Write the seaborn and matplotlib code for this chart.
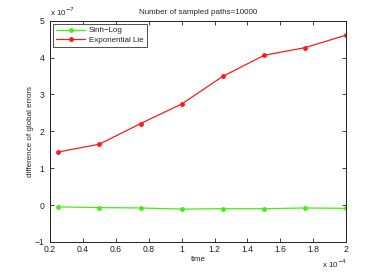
import pandas as pd
import matplotlib
matplotlib.use("Agg")
import matplotlib.pyplot as plt
import seaborn as sns

# time in units of 1e-4, differences in units of 1e-7
TIME = [0.25, 0.5, 0.75, 1.0, 1.25, 1.5, 1.75, 2.0]
SINH_LOG = [-0.05, -0.07, -0.08, -0.11, -0.10, -0.10, -0.08, -0.09]
EXP_LIE = [1.44, 1.65, 2.21, 2.74, 3.49, 4.06, 4.27, 4.61]
SERIES = ["Sinh\u2212Log", "Exponential Lie"]
COLORS = ["#44ee11", "#ff1a1a"]
XTICKS = [0.2, 0.4, 0.6, 0.8, 1, 1.2, 1.4, 1.6, 1.8, 2]
YTICKS = [-1, 0, 1, 2, 3, 4, 5]

FS = 5.8


def build_df():
    rows = []
    for name, vals in zip(SERIES, [SINH_LOG, EXP_LIE]):
        for t, v in zip(TIME, vals):
            rows.append({"time": t, "diff": v, "method": name})
    return pd.DataFrame(rows)


def main():
    sns.set_style("white")
    plt.rcParams["font.family"] = ["Liberation Sans", "DejaVu Sans"]
    df = build_df()

    fig = plt.figure(figsize=(3.82, 2.73), dpi=100)
    ax = fig.add_axes([0.131, 0.114, 0.775, 0.81])

    sns.lineplot(
        data=df, x="time", y="diff", hue="method",
        hue_order=SERIES, palette=COLORS,
        marker="o", markersize=3.5, markeredgewidth=0,
        linewidth=0.9, ax=ax,
    )

    ax.set_xlim(0.2, 2)
    ax.set_ylim(-1, 5)
    ax.set_xticks(XTICKS)
    ax.set_xticklabels(["0.2", "0.4", "0.6", "0.8", "1", "1.2", "1.4", "1.6", "1.8", "2"])
    ax.set_yticks(YTICKS)
    ax.set_yticklabels(["\u22121", "0", "1", "2", "3", "4", "5"])
    ax.tick_params(direction="in", length=3, width=0.6, labelsize=FS + 0.4,
                   top=True, right=True, bottom=True, left=True,
                   colors="#222222")
    ax.tick_params(axis="x", pad=2)
    ax.tick_params(axis="y", pad=4)
    for s in ax.spines.values():
        s.set_linewidth(0.7)
        s.set_color("#222222")

    ax.set_xlabel("time", fontsize=FS, labelpad=2)
    ax.set_ylabel("difference of global errors", fontsize=FS, labelpad=0.5)
    ax.set_title("Number of sampled paths=10000", fontsize=FS, pad=5)

    ax.text(0.0, 1.012, r"x 10$^{-7}$", transform=ax.transAxes, fontsize=FS,
            ha="left", va="bottom")
    ax.text(1.005, -0.072, r"x 10$^{-4}$", transform=ax.transAxes, fontsize=FS,
            ha="right", va="top")

    leg = ax.legend(loc="upper left", fontsize=FS, frameon=True, fancybox=False,
                    borderpad=0.35, handlelength=3.6, labelspacing=0.25,
                    handletextpad=0.5, borderaxespad=0.4)
    leg.get_frame().set_edgecolor("#222222")
    leg.get_frame().set_linewidth(0.7)

    fig.savefig("out.png", dpi=100)
    plt.close(fig)


if __name__ == "__main__":
    main()
